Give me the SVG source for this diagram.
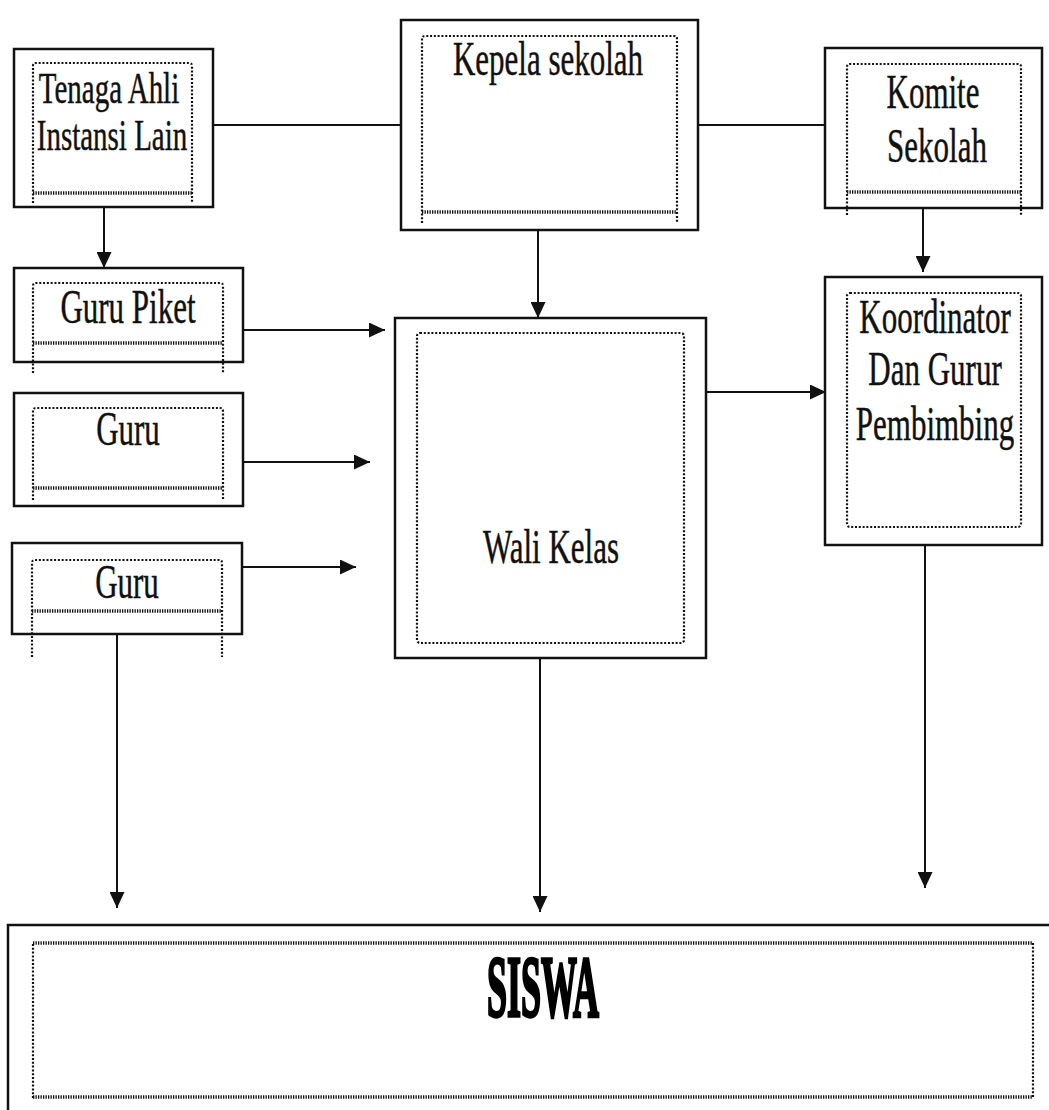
<svg xmlns="http://www.w3.org/2000/svg" width="1049" height="1110" viewBox="0 0 1049 1110">
<style>
.outer{fill:#fff;stroke:#111;stroke-width:2.5}
.dot{fill:none;stroke:#111;stroke-width:2.2;stroke-dasharray:2 1.8}
.wavy{fill:none;stroke:#111;stroke-width:3.5;stroke-dasharray:1.3 1.2}
.lbl{font-family:"Liberation Serif","Times New Roman",serif;font-size:31px;fill:#111;stroke:#111;stroke-width:0.3;text-anchor:middle}
.conn{fill:none;stroke:#111;stroke-width:2}
</style>
<defs>
<marker id="ah" markerUnits="userSpaceOnUse" markerWidth="17" markerHeight="15" refX="16" refY="7.5" orient="auto">
<path d="M0,0 L16,7.5 L0,15 Z" fill="#111"/>
</marker>
</defs>
<rect width="1049" height="1110" fill="#fff"/>

<g id="connectors">
<line class="conn" x1="213" y1="125" x2="401" y2="125"/>
<line class="conn" x1="698" y1="125" x2="825" y2="125"/>
<line class="conn" x1="104" y1="207" x2="104" y2="268" marker-end="url(#ah)"/>
<line class="conn" x1="538" y1="230" x2="538" y2="318" marker-end="url(#ah)"/>
<line class="conn" x1="923" y1="208" x2="923" y2="272" marker-end="url(#ah)"/>
<line class="conn" x1="243" y1="330" x2="385" y2="330" marker-end="url(#ah)"/>
<line class="conn" x1="237" y1="462" x2="370" y2="462" marker-end="url(#ah)"/>
<line class="conn" x1="237" y1="567" x2="356" y2="567" marker-end="url(#ah)"/>
<line class="conn" x1="706" y1="392" x2="826" y2="392" marker-end="url(#ah)"/>
<line class="conn" x1="117" y1="634" x2="117" y2="908" marker-end="url(#ah)"/>
<line class="conn" x1="540" y1="658" x2="540" y2="912" marker-end="url(#ah)"/>
<line class="conn" x1="925" y1="545" x2="925" y2="888" marker-end="url(#ah)"/>
</g>

<g id="tenaga-ahli">
<rect class="outer" x="14" y="49" width="199" height="158"/>
<path class="dot" d="M33,203 V66 Q33,63 36,63 H189 Q192,63 192,66 V203"/>
<line class="wavy" x1="33" y1="193" x2="192" y2="193"/>
<text class="lbl" style="font-size:29px" transform="translate(109,103) scale(1,1.5)">Tenaga Ahli</text>
<text class="lbl" style="font-size:29px" transform="translate(112,150) scale(1,1.5)">Instansi Lain</text>
</g>

<g id="kepala-sekolah">
<rect class="outer" x="401" y="20" width="297" height="210"/>
<path class="dot" d="M422,223 V39 Q422,36 425,36 H674 Q677,36 677,39 V223"/>
<line class="wavy" x1="422" y1="212" x2="677" y2="212"/>
<text class="lbl" transform="translate(548,75) scale(1,1.55)">Kepela sekolah</text>
</g>

<g id="komite-sekolah">
<rect class="outer" x="825" y="48" width="217" height="160"/>
<path class="dot" d="M847,215 V67 Q847,64 850,64 H1018 Q1021,64 1021,67 V215"/>
<line class="wavy" x1="847" y1="192" x2="1021" y2="192"/>
<text class="lbl" transform="translate(933,108) scale(1,1.55)">Komite</text>
<text class="lbl" transform="translate(937,162) scale(1,1.55)">Sekolah</text>
</g>

<g id="guru-piket">
<rect class="outer" x="14" y="268" width="229" height="94"/>
<path class="dot" d="M33,373 V286 Q33,283 36,283 H220 Q223,283 223,286 V373"/>
<line class="wavy" x1="33" y1="343" x2="223" y2="343"/>
<text class="lbl" transform="translate(128,323) scale(1,1.55)">Guru Piket</text>
</g>

<g id="guru-1">
<rect class="outer" x="14" y="393" width="229" height="113"/>
<path class="dot" d="M33,500 V411 Q33,408 36,408 H220 Q223,408 223,411 V500"/>
<line class="wavy" x1="33" y1="488" x2="223" y2="488"/>
<text class="lbl" transform="translate(128,445) scale(1,1.55)">Guru</text>
</g>

<g id="guru-2">
<rect class="outer" x="12" y="543" width="230" height="91"/>
<path class="dot" d="M32,657 V563 Q32,560 35,560 H219 Q222,560 222,563 V657"/>
<line class="wavy" x1="32" y1="611" x2="222" y2="611"/>
<text class="lbl" transform="translate(127,598) scale(1,1.55)">Guru</text>
</g>

<g id="wali-kelas">
<rect class="outer" x="395" y="318" width="311" height="340"/>
<rect class="dot" x="417" y="333" width="267" height="310" rx="3"/>
<text class="lbl" transform="translate(551,563) scale(1,1.55)">Wali Kelas</text>
</g>

<g id="koordinator">
<rect class="outer" x="825" y="277" width="217" height="268"/>
<rect class="dot" x="847" y="293" width="174" height="234" rx="3"/>
<text class="lbl" transform="translate(935,333) scale(1,1.55)">Koordinator</text>
<text class="lbl" transform="translate(935,385) scale(1,1.55)">Dan Gurur</text>
<text class="lbl" transform="translate(935,440) scale(1,1.55)">Pembimbing</text>
</g>

<g id="siswa">
<rect class="outer" x="8" y="925" width="1070" height="220"/>
<path class="dot" d="M33,1098 V943 M1033,943 V1098"/>
<line class="wavy" x1="33" y1="943" x2="1033" y2="943"/>
<line class="wavy" x1="33" y1="1097" x2="1033" y2="1097"/>
<text class="lbl" style="font-size:36px;font-weight:bold;stroke:#000;stroke-width:1.4;fill:#000" transform="translate(543,1016) scale(1,2.4)">SISWA</text>
</g>
</svg>
